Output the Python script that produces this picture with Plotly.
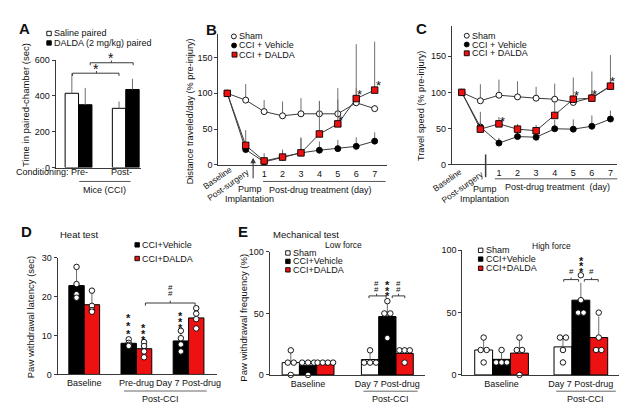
import plotly.graph_objects as go

# ---------------- data ----------------
# Panel A: conditioned place preference
a_groups = ["Pre-", "Post-"]
a_saline = [415, 331]
a_saline_err = [112, 38]
a_dalda = [351, 436]
a_dalda_err = [94, 60]

# Panel B: distance traveled (% pre-injury)
bc_labels = ["Baseline", "Post-surgery", "1", "2", "3", "4", "5", "6", "7"]
b_sham = [100, 90.5, 74.5, 68.6, 71.4, 71.4, 71.4, 86.8, 78.6]
b_sham_err = [0, 22.5, 16, 20, 21.8, 18, 20, 20, 5]
b_veh = [100, 21.4, 4.1, 10.9, 16.8, 20.5, 22.7, 25.9, 33.2]
b_veh_err = [0, 5, 5, 10.5, 21.8, 12.3, 12.3, 12.7, 12.3]
b_dalda = [100, 27.3, 5.5, 10.9, 16.8, 43.2, 57.3, 92.7, 104.5]
b_dalda_err = [0, 21.3, 11, 8, 20, 46, 50, 76, 67.7]

# Panel C: travel speed (% pre-injury)
c_sham = [100, 88.3, 96, 93.7, 91.9, 90.5, 86, 92.8, 108.6]
c_sham_err = [0, 23, 21.6, 21.6, 15.8, 21.6, 10, 10, 10]
c_veh = [100, 52, 29.7, 38.7, 37.8, 49.5, 49, 53, 63]
c_veh_err = [0, 8, 7, 8, 8, 12.5, 13.5, 15, 11.8]
c_dalda = [100, 49, 56.3, 49, 46.8, 68, 90.5, 91.9, 108.6]
c_dalda_err = [0, 24, 9.5, 7, 8, 20, 30, 37, 43]

# Panel D: heat test
d_groups = ["Baseline", "Pre-drug", "Day 7 Post-drug"]
d_veh = [22.8, 8.0, 8.6]
d_veh_err = [5.0, 1.2, 2.6]
d_dalda = [17.9, 6.6, 14.5]
d_dalda_err = [3.6, 1.7, 2.5]
d_veh_pts = [[27.6, 23.2, 20.6, 19.7], [9.0, 8.1, 7.6, 7.3], [11.2, 9.3, 7.7, 5.9]]
d_dalda_pts = [[21.5, 17.6, 16.5, 16.1], [8.3, 7.3, 5.9, 4.4], [17.0, 15.6, 14.2, 11.8]]

# Panel E: mechanical test
e_groups = ["Baseline", "Day 7 Post-drug"]
el_sham = [10, 12.5]
el_sham_err = [8.2, 5]
el_veh = [7.5, 47.5]
el_veh_err = [5, 14]
el_dalda = [10, 17.5]
el_dalda_err = [0, 5]
el_sham_pts = [[20, 10, 10, 0], [20, 10, 10, 10]]
el_veh_pts = [[10, 10, 10, 0], [60, 50, 50, 30]]
el_dalda_pts = [[10, 10, 10, 10], [20, 20, 20, 10]]

eh_sham = [20, 22.5]
eh_sham_err = [8.2, 8]
eh_veh = [12.5, 60]
eh_veh_err = [5, 14]
eh_dalda = [17.5, 30]
eh_dalda_err = [12.6, 17]
eh_sham_pts = [[30, 20, 20, 10], [30, 30, 20, 10]]
eh_veh_pts = [[20, 10, 10, 10], [80, 60, 50, 50]]
eh_dalda_pts = [[30, 20, 20, 0], [50, 30, 20, 20]]

# ---------------- helpers ----------------
W, H = 627, 408
FONT = "Liberation Sans, Arial, sans-serif"
AX = "#3a3a3a"
TXT = "#111111"
RED = "#ee1111"
ERR = "#6e6e6e"


def fx(x):
    return x / W


def fy(y):
    return 1 - y / H


fig = go.Figure()
annotations = []
shapes = []


def text(x, y, s, size=9, xanchor="center", bold=False, angle=0, color=TXT, yshift=0):
    annotations.append(dict(
        x=fx(x), y=fy(y), xref="paper", yref="paper", text=("<b>%s</b>" % s) if bold else s,
        showarrow=False, xanchor=xanchor, yanchor="middle", textangle=angle, yshift=yshift,
        font=dict(family=FONT, size=size, color=color)))


def line(x0, y0, x1, y1, color=AX, width=1):
    shapes.append(dict(type="line", xref="paper", yref="paper", x0=fx(x0), y0=fy(y0),
                       x1=fx(x1), y1=fy(y1), line=dict(color=color, width=width)))


def path(pts, color=AX, width=1):
    d = "M " + " L ".join("%f,%f" % (fx(x), fy(y)) for x, y in pts)
    shapes.append(dict(type="path", xref="paper", yref="paper", path=d,
                       line=dict(color=color, width=width)))


def legmark(x, y, kind, fill, size=5, outline="black"):
    h = size / 2
    shapes.append(dict(type="circle" if kind == "circle" else "rect", xref="paper", yref="paper",
                       x0=fx(x - h), x1=fx(x + h), y0=fy(y + h), y1=fy(y - h),
                       fillcolor=fill, line=dict(color=outline, width=0.9)))


def stack(x, ys, ch="*", size=11):
    for y in ys:
        text(x, y, ch, size=size, bold=(ch == "*"), yshift=-2.5 if ch == "*" else 0)


def axis_pair(i, xpx, ypx, xrange, yrange, ytick, xtickvals=None, xticktext=None):
    sx = "" if i == 1 else str(i)
    xa = dict(domain=[fx(xpx[0]), fx(xpx[1])], range=xrange, anchor="y" + sx,
              showline=True, linecolor=AX, linewidth=1, ticks="", showgrid=False, zeroline=False,
              tickfont=dict(family=FONT, size=9, color=TXT), fixedrange=True)
    if xtickvals is None:
        xa["showticklabels"] = False
    else:
        xa["tickvals"] = xtickvals
        xa["ticktext"] = xticktext
    ya = dict(domain=[fy(ypx[1]), fy(ypx[0])], range=yrange, anchor="x" + sx,
              showline=True, linecolor=AX, linewidth=1, ticks="outside", ticklen=3, tickwidth=1,
              tickcolor=AX, tickvals=ytick, showgrid=False, zeroline=False,
              tickfont=dict(family=FONT, size=9, color=TXT), fixedrange=True)
    fig.update_layout(**{"xaxis" + sx: xa, "yaxis" + sx: ya})
    return "x" + sx, "y" + sx


def err(arr):
    return dict(type="data", symmetric=False, array=arr, arrayminus=[0] * len(arr),
                width=0, thickness=1, color=ERR)


def jitter(vals, spacing):
    out = []
    for i, v in enumerate(vals):
        n = vals.count(v)
        k = vals[:i].count(v)
        out.append((k - (n - 1) / 2) * spacing)
    return out


def bars(xa, ya, vals, errs, offset, width, color):
    fig.add_trace(go.Bar(x=[g + offset for g in range(len(vals))], y=vals, width=width,
                         marker=dict(color=color, line=dict(color="black", width=1)),
                         error_y=err(errs), xaxis=xa, yaxis=ya, showlegend=False))


def points(xa, ya, pts, offset, spacing):
    xs, ys = [], []
    for g, vals in enumerate(pts):
        for j, v in zip(jitter(vals, spacing), vals):
            xs.append(g + offset + j)
            ys.append(v)
    fig.add_trace(go.Scatter(x=xs, y=ys, mode="markers", cliponaxis=False,
                             marker=dict(size=5.5, color="white", line=dict(color="black", width=0.9)),
                             xaxis=xa, yaxis=ya, showlegend=False))


# ---------------- Panel A ----------------
xa, ya = axis_pair(1, (48, 134), (48.3, 158.5), [-0.484, 1.326], [0, 600], [0, 200, 400, 600])
wA = 0.284
bars(xa, ya, a_saline, a_saline_err, -wA / 2, wA, "white")
bars(xa, ya, a_dalda, a_dalda_err, wA / 2, wA, "black")
text(16.5, 16, "A", size=15, bold=True)
legmark(41.3, 21, "rect", "white", 4.5)
text(44.3, 21, "Saline paired", xanchor="left")
legmark(41.3, 30.7, "rect", "black", 4.5)
text(44.3, 30.7, "DALDA (2 mg/kg) paired", xanchor="left")
text(18.3, 94, "Time in paired-chamber (sec)", size=9.5, angle=-90)
text(6, 163.5, "Conditioning: Pre-", xanchor="left")
text(114, 163.5, "Post-")
line(71.7, 172.7, 123.3, 172.7, color="#555")
text(96.7, 181.7, "Mice (CCI)")
path([(65, 64.5), (65, 61.7), (111.7, 61.7), (111.7, 64.5)])
line(89, 61.7, 89, 59.5)
path([(82.7, 53.5), (82.7, 51), (126, 51), (126, 53.5)])
line(104, 51, 104, 48.8)
text(89, 54, "*", size=14, yshift=-3)
text(104, 42.7, "*", size=14, yshift=-3)

# ---------------- Panel B & C ----------------
def lines_panel(xa, ya, sham, sham_e, veh, veh_e, dal, dal_e):
    idx = list(range(len(bc_labels)))
    fig.add_trace(go.Scatter(x=idx, y=sham, mode="lines+markers", error_y=err(sham_e),
                             line=dict(color=AX, width=1),
                             marker=dict(symbol="circle", size=6, color="white", line=dict(color="black", width=0.9)),
                             xaxis=xa, yaxis=ya, showlegend=False, cliponaxis=False))
    fig.add_trace(go.Scatter(x=idx, y=veh, mode="lines+markers", error_y=err(veh_e),
                             line=dict(color=AX, width=1),
                             marker=dict(symbol="circle", size=6, color="black", line=dict(color="black", width=0.9)),
                             xaxis=xa, yaxis=ya, showlegend=False, cliponaxis=False))
    fig.add_trace(go.Scatter(x=idx, y=dal, mode="lines+markers", error_y=err(dal_e),
                             line=dict(color=AX, width=1),
                             marker=dict(symbol="square", size=6.5, color=RED, line=dict(color="black", width=0.9)),
                             xaxis=xa, yaxis=ya, showlegend=False, cliponaxis=False))


day_idx = list(range(2, len(bc_labels)))
day_txt = bc_labels[2:]

xb, yb = axis_pair(2, (211.7, 381.7), (21.7, 155.7), [-0.485, 8.684], [0, 182.7], [0, 50, 100, 150],
                   day_idx, day_txt)
lines_panel(xb, yb, b_sham, b_sham_err, b_veh, b_veh_err, b_dalda, b_dalda_err)
text(205, 17, "B", size=15, bold=True)
legmark(227.3, 24, "circle", "white", 5)
text(230, 24, "Sham", xanchor="left")
legmark(227.5, 33.3, "circle", "black", 5)
text(230, 33.3, "CCI + Vehicle", xanchor="left")
legmark(228, 42.7, "rect", RED, 5)
text(230.7, 42.7, "CCI + DALDA", xanchor="left")
text(183, 101, "Distance traveled/day (% pre-injury)", size=9.2, angle=-90)
text(210.5, 169, bc_labels[0], size=8.5, angle=-35)
text(221.5, 176.5, bc_labels[1], size=8.5, angle=-35)
annotations.append(dict(x=fx(246.7), y=fy(148.3), xref="paper", yref="paper", text="",
                        showarrow=True, ax=0, ay=22, arrowhead=2, arrowsize=1, arrowwidth=1.1,
                        arrowcolor=AX))
text(243.3, 180.3, "Pump")
text(243.3, 190.7, "Implantation")
line(256.7, 172.7, 380, 172.7, color="#555")
text(315, 181, "Post-drug treatment (day)")
text(334.3, 107.3, "*", size=13, yshift=-3)
text(353.3, 80, "*", size=13, yshift=-3)
text(372.7, 71, "*", size=13, yshift=-3)

xc, yc = axis_pair(3, (446.7, 613.3), (13.3, 155.3), [-0.535, 8.374], [0, 192], [0, 50, 100, 150],
                   day_idx, day_txt)
lines_panel(xc, yc, c_sham, c_sham_err, c_veh, c_veh_err, c_dalda, c_dalda_err)
text(416, 16, "C", size=15, bold=True)
legmark(461.7, 23.3, "circle", "white", 5)
text(464.5, 23.3, "Sham", xanchor="left")
legmark(461.7, 32.3, "circle", "black", 5)
text(464.5, 32.3, "CCI + Vehicle", xanchor="left")
legmark(461.7, 41.3, "rect", RED, 5)
text(464.5, 41.3, "CCI + DALDA", xanchor="left")
text(415, 95, "Travel speed (% pre-injury)", size=9.2, angle=-90)
text(442.3, 171.5, bc_labels[0], size=8.5, angle=-35)
text(457.3, 178.3, bc_labels[1], size=8.5, angle=-35)
line(480.7, 145, 480.7, 168.3, color=AX, width=1.5)
text(480, 180, "Pump")
text(480, 190.5, "Implantation")
line(490, 170, 613.3, 170, color="#555")
text(553.3, 178.3, "Post-drug treatment  (day)")
text(498, 108.3, "*", size=13, yshift=-3)
text(571.7, 82, "*", size=13, yshift=-3)
text(590.7, 80, "*", size=13, yshift=-3)
text(608.7, 67.3, "*", size=13, yshift=-3)

# ---------------- Panel D ----------------
xd, yd = axis_pair(4, (50, 210), (250.7, 370.5), [-0.509, 2.539], [0, 30], [0, 10, 20, 30],
                   list(range(len(d_groups))), d_groups)
wD = 0.295
bars(xd, yd, d_veh, d_veh_err, -wD / 2, wD, "black")
bars(xd, yd, d_dalda, d_dalda_err, wD / 2, wD, RED)
points(xd, yd, d_veh_pts, -wD / 2, 0.1)
points(xd, yd, d_dalda_pts, wD / 2, 0.1)
text(19, 223.5, "D", size=15, bold=True)
text(71.7, 227.3, "Heat test", size=9.5)
legmark(130, 237.7, "rect", "black", 4.5)
text(133.3, 237.7, "CCI+Vehicle", xanchor="left")
legmark(130, 251.7, "rect", RED, 4.5)
text(133.3, 251.7, "CCI+DALDA", xanchor="left")
text(23, 311, "Paw withdrawal latency (sec)", size=9.5, angle=-90)
line(116.7, 387.5, 200, 387.5, color="#666")
text(153.3, 395.5, "Post-CCI")
path([(138.3, 300), (138.3, 297.3), (188.3, 297.3), (188.3, 300)])
line(163.3, 297.3, 163.3, 295)
stack(163.3, [281, 288], "#", size=8)
stack(121, [310, 318, 326])
stack(136, [320, 326.5, 333])
stack(173.3, [308.5, 314.5, 320.5])

# ---------------- Panel E (low force) ----------------
xe, ye = axis_pair(5, (263.3, 420), (245, 371), [-0.485, 1.479], [0, 100], [0, 50, 100],
                   list(range(len(e_groups))), e_groups)
wE = 0.218
bars(xe, ye, el_sham, el_sham_err, -wE, wE, "white")
bars(xe, ye, el_veh, el_veh_err, 0, wE, "black")
bars(xe, ye, el_dalda, el_dalda_err, wE, wE, RED)
points(xe, ye, el_sham_pts, -wE, 0.075)
points(xe, ye, el_veh_pts, 0, 0.075)
points(xe, ye, el_dalda_pts, wE, 0.065)
text(236.7, 223.7, "E", size=15, bold=True)
text(300, 227.3, "Mechanical test", size=9.5)
text(337.5, 238.3, "Low force", size=8.5)
legmark(281.7, 246, "rect", "white", 4.5)
text(285, 246, "Sham", xanchor="left")
legmark(281.7, 254.6, "rect", "black", 4.5)
text(285, 254.6, "CCI+Vehicle", xanchor="left")
legmark(281.7, 263.3, "rect", RED, 4.5)
text(285, 263.3, "CCI+DALDA", xanchor="left")
text(237.3, 312.5, "Paw withdrawal frequency (%)", size=9.5, angle=-90)
line(357.7, 387.7, 412.3, 387.7, color="#666")
text(385, 395.5, "Post-CCI")
path([(363.3, 292.3), (363.3, 290), (380.5, 290), (380.5, 292.3)])
line(371, 290, 371, 287.8)
path([(386.7, 292.3), (386.7, 290), (399.3, 290), (399.3, 292.3)])
line(393, 290, 393, 287.8)
stack(371, [277.5, 283.5], "#", size=8)
stack(392.7, [277.5, 283.5], "#", size=8)
stack(381.7, [276.5, 282, 287.5])

# ---------------- Panel E (high force) ----------------
xh, yh = axis_pair(6, (457.3, 615), (243.3, 371), [-0.494, 1.482], [0, 100], [0, 50, 100],
                   list(range(len(e_groups))), e_groups)
wH = 0.2256
bars(xh, yh, eh_sham, eh_sham_err, -wH, wH, "white")
bars(xh, yh, eh_veh, eh_veh_err, 0, wH, "black")
bars(xh, yh, eh_dalda, eh_dalda_err, wH, wH, RED)
points(xh, yh, eh_sham_pts, -wH, 0.075)
points(xh, yh, eh_veh_pts, 0, 0.068)
points(xh, yh, eh_dalda_pts, wH, 0.068)
text(546.5, 239.3, "High force", size=8.5)
legmark(475.7, 243.3, "rect", "white", 4.5)
text(479, 243.3, "Sham", xanchor="left")
legmark(475.7, 252.3, "rect", "black", 4.5)
text(479, 252.3, "CCI+Vehicle", xanchor="left")
legmark(475.7, 261.7, "rect", RED, 4.5)
text(479, 261.7, "CCI+DALDA", xanchor="left")
line(551.7, 387.7, 611.7, 387.7, color="#666")
text(581.7, 395.5, "Post-CCI")
path([(559.3, 275.5), (559.3, 273.3), (574.3, 273.3), (574.3, 275.5)])
line(566.7, 273.3, 566.7, 271.3)
path([(580, 275.5), (580, 273.3), (594, 273.3), (594, 275.5)])
line(587.3, 273.3, 587.3, 271.3)
stack(566.7, [265], "#", size=8)
stack(587.3, [265], "#", size=8)
stack(576.7, [251.5, 257, 262.5])

fig.update_layout(
    width=W, height=H, margin=dict(l=0, r=0, t=0, b=0),
    paper_bgcolor="white", plot_bgcolor="white", barmode="overlay",
    font=dict(family=FONT, size=9, color=TXT),
    annotations=annotations, shapes=shapes, showlegend=False,
)

fig.write_html("out.html")
